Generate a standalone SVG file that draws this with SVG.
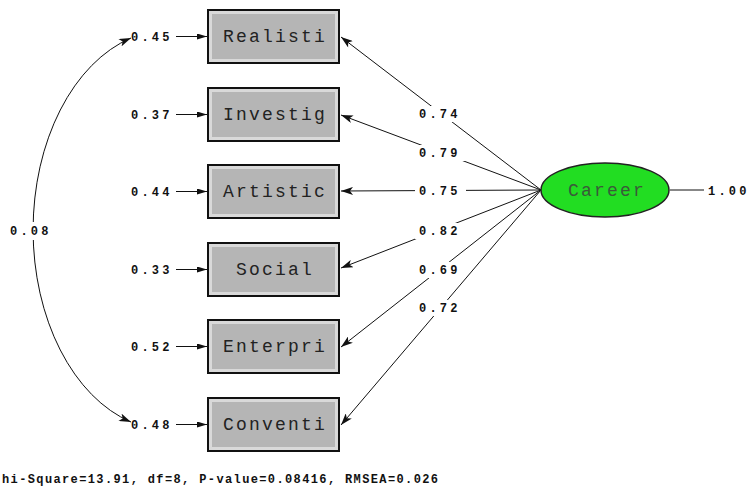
<svg xmlns="http://www.w3.org/2000/svg" width="750" height="496" viewBox="0 0 750 496">
<defs>
<style>
.box{fill:#d9d9d9;stroke:#111;stroke-width:2}
.inner{fill:#b5b5b5;stroke:none}
.bl{font-family:"Liberation Mono",monospace;font-size:18px;letter-spacing:2.2px;fill:#222;text-anchor:middle}
.num{font-family:"Liberation Mono",monospace;font-size:12px;font-weight:bold;letter-spacing:3.2px;fill:#111}
.bg{fill:#fff;stroke:none}
.ln{stroke:#111;stroke-width:1;fill:none}
</style>
<marker id="ah" viewBox="0 0 12 8" refX="12" refY="4" markerWidth="13" markerHeight="8" markerUnits="userSpaceOnUse" orient="auto-start-reverse">
<path d="M0,0 L12,4 L0,8 L3,4 Z" fill="#111"/>
</marker>
<marker id="eh" viewBox="0 0 10 6" refX="10" refY="3" markerWidth="10" markerHeight="6" markerUnits="userSpaceOnUse" orient="auto">
<path d="M0,0 L10,3 L0,6 Z" fill="#111"/>
</marker>
</defs>
<rect width="750" height="496" fill="#fff"/>

<g id="connectors">
<line class="ln" x1="541" y1="190" x2="341" y2="37" marker-end="url(#ah)"/>
<line class="ln" x1="541" y1="190" x2="341" y2="115" marker-end="url(#ah)"/>
<line class="ln" x1="541" y1="190" x2="341" y2="191" marker-end="url(#ah)"/>
<line class="ln" x1="541" y1="190" x2="341" y2="268" marker-end="url(#ah)"/>
<line class="ln" x1="541" y1="190" x2="341" y2="347" marker-end="url(#ah)"/>
<line class="ln" x1="541" y1="190" x2="341" y2="425" marker-end="url(#ah)"/>
<line class="ln" x1="670" y1="190" x2="704" y2="190"/>
<line class="ln" x1="176" y1="36.5" x2="207" y2="36.5" marker-end="url(#eh)"/>
<line class="ln" x1="176" y1="114.5" x2="207" y2="114.5" marker-end="url(#eh)"/>
<line class="ln" x1="176" y1="191.5" x2="207" y2="191.5" marker-end="url(#eh)"/>
<line class="ln" x1="176" y1="269.5" x2="207" y2="269.5" marker-end="url(#eh)"/>
<line class="ln" x1="176" y1="346.5" x2="207" y2="346.5" marker-end="url(#eh)"/>
<line class="ln" x1="176" y1="424.5" x2="207" y2="424.5" marker-end="url(#eh)"/>
<path class="ln" d="M131,38 A136,200 0 0 0 131,422" marker-start="url(#ah)" marker-end="url(#ah)"/>
<rect class="bg" x="415" y="106" width="51" height="16"/>
<rect class="bg" x="415" y="145" width="51" height="16"/>
<rect class="bg" x="415" y="183" width="51" height="16"/>
<rect class="bg" x="415" y="223" width="51" height="16"/>
<rect class="bg" x="415" y="262" width="51" height="16"/>
<rect class="bg" x="415" y="300" width="51" height="16"/>
<rect class="bg" x="7" y="222" width="50" height="18"/>
<text class="num" x="419" y="118">0.74</text>
<text class="num" x="419" y="157">0.79</text>
<text class="num" x="419" y="195">0.75</text>
<text class="num" x="419" y="235">0.82</text>
<text class="num" x="419" y="274">0.69</text>
<text class="num" x="419" y="312">0.72</text>
<text class="num" x="10" y="235">0.08</text>
<text class="num" x="708" y="195">1.00</text>
</g>

<g id="err">
<text class="num" x="131" y="41">0.45</text>
<text class="num" x="131" y="119">0.37</text>
<text class="num" x="131" y="196">0.44</text>
<text class="num" x="131" y="274">0.33</text>
<text class="num" x="131" y="351">0.52</text>
<text class="num" x="131" y="429">0.48</text>
</g>

<g id="realisti"><rect class="box" x="208" y="10" width="131" height="53"/><rect class="inner" x="212" y="14" width="123" height="45"/><text class="bl" x="275" y="42">Realisti</text></g>
<g id="investig"><rect class="box" x="208" y="88" width="131" height="53"/><rect class="inner" x="212" y="92" width="123" height="45"/><text class="bl" x="275" y="120">Investig</text></g>
<g id="artistic"><rect class="box" x="208" y="165" width="131" height="53"/><rect class="inner" x="212" y="169" width="123" height="45"/><text class="bl" x="275" y="197">Artistic</text></g>
<g id="social"><rect class="box" x="208" y="243" width="131" height="53"/><rect class="inner" x="212" y="247" width="123" height="45"/><text class="bl" x="275" y="275">Social</text></g>
<g id="enterpri"><rect class="box" x="208" y="320" width="131" height="53"/><rect class="inner" x="212" y="324" width="123" height="45"/><text class="bl" x="275" y="352">Enterpri</text></g>
<g id="conventi"><rect class="box" x="208" y="398" width="131" height="53"/><rect class="inner" x="212" y="402" width="123" height="45"/><text class="bl" x="275" y="430">Conventi</text></g>

<g id="career"><ellipse cx="605" cy="190" rx="64" ry="27" fill="#22dd22" stroke="#222" stroke-width="1.5"/><text class="bl" x="607" y="196" style="fill:#3a5a3a">Career</text></g>

<text x="2" y="483" font-family="Liberation Mono, monospace" font-size="12" font-weight="bold" fill="#111" textLength="436" lengthAdjust="spacing">hi-Square=13.91, df=8, P-value=0.08416, RMSEA=0.026</text>
</svg>
